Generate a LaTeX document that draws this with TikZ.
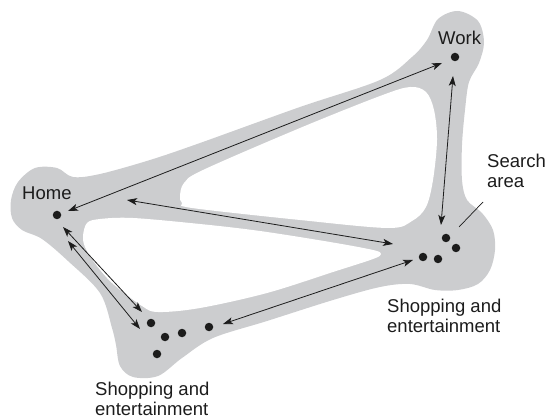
\documentclass[tikz,border=0pt]{standalone}
\usepackage{fontspec}
\setmainfont{Liberation Sans}
\usetikzlibrary{arrows.meta}
\definecolor{zonegray}{RGB}{204,205,207}
\definecolor{inkblack}{RGB}{28,28,28}

\begin{document}
\begin{tikzpicture}[x=1pt, y=-1pt,
  font=\fontsize{18.5}{19.5}\selectfont,
  zone/.style={fill=zonegray, draw=none},
  hole/.style={fill=white, draw=none},
  spot/.style={circle, fill=inkblack, inner sep=0pt, minimum size=8.5pt},
  arr/.style={{Stealth[length=10pt,width=7pt,inset=2.5pt]}-{Stealth[length=10pt,width=7pt,inset=2.5pt]},
              line width=0.8pt, color=inkblack},
  lbl/.style={inner sep=0pt, align=left, text=inkblack}]
\useasboundingbox (0,0) rectangle (548,419);
% search area (grey) with the two gaps
\fill[zone] plot[smooth cycle, tension=0.55] coordinates {
  (11,200) (18,182) (35,168) (57,168) (73,177) (100,174) (150,160) (200,143)
  (300,107) (380,80) (412,57) (427,40) (438,19) (458,11) (478,21) (484,42)
  (479,63) (469,82) (465,110) (462,145) (462,180) (467,200) (482,213) (493,230)
  (495,250) (490,270) (478,284) (458,290) (435,290) (410,284) (380,287) (333,300)
  (267,321) (213,338) (182,358) (158,376) (133,377) (120,366) (116,345) (112,328)
  (100,293) (68,261) (42,239) (22,230) (12,218)};
\fill[hole] plot[smooth cycle, tension=0.55] coordinates {
  (180,196) (184,183) (203,170) (300,128) (380,96) (410,87) (426,92) (434,110)
  (437,140) (433,180) (426,207) (412,221) (388,228) (300,220) (192,208) (182,203)};
\fill[hole] plot[smooth cycle, tension=0.55] coordinates {
  (83,236) (87,223) (100,219) (133,218) (200,224) (260,231) (330,242) (373,250)
  (381,254) (373,259) (333,272) (267,293) (200,308) (158,312) (142,306) (112,283)
  (94,262) (85,247)};
% places
\node[spot] (home) at (57,215) {};
\node[spot] (work) at (455,57) {};
\node[spot] (s1) at (446,238) {};
\node[spot] (s2) at (456,248) {};
\node[spot] (s3) at (423,257) {};
\node[spot] (s4) at (438,259) {};
\node[spot] (t1) at (151,323) {};
\node[spot] (t2) at (165,337) {};
\node[spot] (t3) at (182,333) {};
\node[spot] (t4) at (157,354) {};
\node[spot] (t5) at (209,327) {};
% arrow ends
\coordinate (hw1) at (68,211);  \coordinate (hw2) at (442,63);
\coordinate (hs1) at (127,200); \coordinate (hs2) at (393,244);
\coordinate (ws1) at (453,76);  \coordinate (ws2) at (441,225);
\coordinate (ht1) at (63,227);  \coordinate (ht2) at (142,312);
\coordinate (ht3) at (68,241);  \coordinate (ht4) at (140,329);
\coordinate (ts1) at (223,324); \coordinate (ts2) at (413,260);
\draw[arr] (hw1) -- (hw2);
\draw[arr] (hs1) -- (hs2);
\draw[arr] (ws1) -- (ws2);
\draw[arr] (ht1) -- (ht2);
\draw[arr] (ht3) -- (ht4);
\draw[arr] (ts1) -- (ts2);
% labels
\node[lbl, anchor=base west] (homelbl) at (22,200) {Home};
\node[lbl, anchor=base west] (worklbl) at (438,45) {Work};
\node[lbl, anchor=north west] (searchlbl) at (487,154) {Search\\area};
\node[lbl, anchor=north west] (shopright) at (387,299) {Shopping and\\entertainment};
\node[lbl, anchor=north west] (shopleft) at (95,382) {Shopping and\\entertainment};
\coordinate (lead1) at (459,227); \coordinate (lead2) at (483,202);
\draw[inkblack, line width=0.7pt] (lead1) -- (lead2);
\end{tikzpicture}
\end{document}
